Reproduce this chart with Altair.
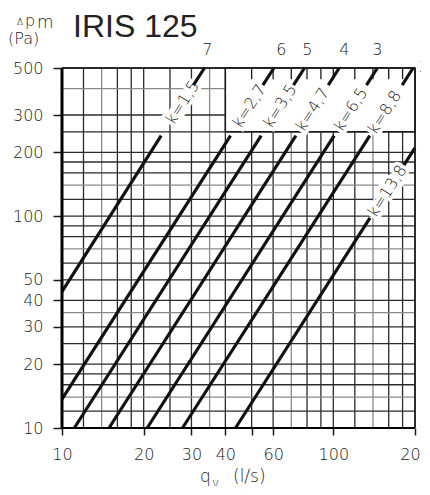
import altair as alt
import pandas as pd

# ---- data ----
k_labels = ["k=1,5", "k=2,7", "k=3,5", "k=4,7", "k=6,5", "k=8,8", "k=13,8"]
position_numbers = ["7", "6", "5", "4", "3", "2", "1"]

# solid part of each line: start (q, dp) -> end (q, dp)
solid_q0 = [10, 10, 11.1, 14.9, 20.6, 27.8, 43.6]
solid_p0 = [44, 13.7, 10, 10, 10, 10, 10]
solid_q1 = [23.2, 41.8, 54.2, 72.8, 100.7, 136.3, 136.5]
solid_p1 = [240, 240, 240, 240, 240, 240, 98]
# short upper part of each line
top_q0 = [30.5, 55.0, 71.3, 95.8, 132.5, 179.4, 182]
top_p0 = [415, 415, 415, 415, 415, 415, 174]
top_q1 = [33.5, 60.4, 78.3, 105.1, 145.3, 196.8, 200]
top_p1 = [500, 500, 500, 500, 500, 500, 210]
# label anchor points (on the lines)
label_q = [27.8, 49.0, 63.6, 83.8, 115.9, 154.4, 158]
label_p = [343, 330, 330, 318, 318, 308, 131]
# position numbers above / right of the plot
num_q = [34.3, 64.3, 80.2, 109.8, 145.3, 216.7, 232]
num_p = [610, 610, 610, 610, 610, 507, 256]

x_grid_dark = [10, 12, 16, 18, 20, 25, 30, 40, 50, 60, 80, 90, 100, 120, 160, 180, 200]
x_grid_gray = [14, 35, 70, 140]
y_grid_dark = [10, 12, 16, 18, 20, 25, 30, 40, 50, 60, 80, 90, 100, 120, 160, 180, 200, 250, 300, 500]
y_grid_gray = [14, 35, 70, 140, 400]
top_tick_q = [50, 60, 70, 80, 90, 100, 120, 140, 160, 180]

x_ticks = [10, 20, 30, 40, 50, 60, 100, 200]
y_ticks = [10, 20, 30, 40, 50, 100, 200, 300, 500]

W, H = 353, 360
FONT = "DejaVu Sans"
INK = "#1a1a1a"

xs = alt.Scale(type="log", domain=[10, 200], nice=False)
ys = alt.Scale(type="log", domain=[10, 500], nice=False)

x_axis = alt.Axis(values=x_ticks, title=None, grid=False, domain=False,
                  tickSize=7, tickWidth=1.5, tickColor=INK,
                  labelFont=FONT, labelFontSize=16, labelFontWeight=300,
                  labelColor="#222", labelPadding=11, labelFlush=False,
                  labelExpr="datum.value == 50 ? '' : datum.label", format="d")
y_axis = alt.Axis(values=y_ticks, title=None, grid=False, domain=False,
                  tickSize=9, tickWidth=1.5, tickColor=INK,
                  labelFont=FONT, labelFontSize=16, labelFontWeight=300,
                  labelColor="#222", labelPadding=10, format="d")

one = pd.DataFrame({"a": [0]})

vx_dark = alt.Chart(pd.DataFrame({"q": x_grid_dark})).mark_rule(
    color="#2b2b2b", strokeWidth=1.3).encode(
    x=alt.X("q:Q", scale=xs, axis=x_axis), y=alt.datum(10, scale=ys), y2=alt.datum(500))
vx_gray = alt.Chart(pd.DataFrame({"q": x_grid_gray})).mark_rule(
    color="#8a8a8a", strokeWidth=1.3).encode(
    x=alt.X("q:Q"), y=alt.datum(10), y2=alt.datum(500))
hy_dark = alt.Chart(pd.DataFrame({"p": y_grid_dark})).mark_rule(
    color="#2b2b2b", strokeWidth=1.3).encode(
    y=alt.Y("p:Q", scale=ys, axis=y_axis), x=alt.datum(10), x2=alt.datum(200))
hy_gray = alt.Chart(pd.DataFrame({"p": y_grid_gray})).mark_rule(
    color="#8a8a8a", strokeWidth=1.3).encode(
    y=alt.Y("p:Q"), x=alt.datum(10), x2=alt.datum(200))

box = alt.Chart(one).mark_rect(fill="white", stroke=INK, strokeWidth=1.5).encode(
    x=alt.datum(40), x2=alt.datum(200), y=alt.datum(250), y2=alt.datum(500))
top_ticks = alt.Chart(pd.DataFrame({"q": top_tick_q})).mark_rule(
    color=INK, strokeWidth=1.3).encode(
    x=alt.X("q:Q"), y=alt.datum(443), y2=alt.datum(500))

seg_df = pd.DataFrame({"q": solid_q0 + top_q0, "p": solid_p0 + top_p0,
                       "q2": solid_q1 + top_q1, "p2": solid_p1 + top_p1})
segs = alt.Chart(seg_df).mark_rule(color="#111", strokeWidth=3.2, strokeCap="butt").encode(
    x=alt.X("q:Q"), x2="q2:Q", y=alt.Y("p:Q"), y2="p2:Q")

lab_df = pd.DataFrame({"q": label_q, "p": label_p, "t": k_labels})
halo = alt.Chart(lab_df).mark_text(
    font=FONT, fontSize=16, fontWeight=300, angle=302.5, stroke="white",
    strokeWidth=7, fill="white", align="center", baseline="middle").encode(
    x=alt.X("q:Q"), y=alt.Y("p:Q"), text="t:N")
labels = alt.Chart(lab_df).mark_text(
    font=FONT, fontSize=16, fontWeight=300, angle=302.5, color="#222",
    align="center", baseline="middle").encode(
    x=alt.X("q:Q"), y=alt.Y("p:Q"), text="t:N")

num_df = pd.DataFrame({"q": num_q, "p": num_p, "t": position_numbers})
nums = alt.Chart(num_df).mark_text(
    font=FONT, fontSize=16, fontWeight=300, color="#222", clip=False,
    align="center", baseline="middle").encode(
    x=alt.X("q:Q"), y=alt.Y("p:Q"), text="t:N")

border_l = alt.Chart(one).mark_rule(color="#000", strokeWidth=3).encode(
    x=alt.datum(10), y=alt.datum(10), y2=alt.datum(500))
border_b = alt.Chart(one).mark_rule(color="#000", strokeWidth=2).encode(
    y=alt.datum(10), x=alt.datum(10), x2=alt.datum(200))
border_t = alt.Chart(one).mark_rule(color=INK, strokeWidth=1.5).encode(
    y=alt.datum(500), x=alt.datum(10), x2=alt.datum(200))
border_r = alt.Chart(one).mark_rule(color=INK, strokeWidth=1.5).encode(
    x=alt.datum(200), y=alt.datum(10), y2=alt.datum(500))


def txt(s, x, y, size, align="left", weight=300, font=FONT):
    return alt.Chart(one).mark_text(
        text=s, font=font, fontSize=size, fontWeight=weight, color="#222",
        align=align, baseline="alphabetic").encode(x=alt.value(x), y=alt.value(y))


title = txt("IRIS 125", 11, -31, 32, weight="normal", font="Liberation Sans")
ylab = (txt("Δ", -45, -43, 9) + txt("p", -37, -42, 16) + txt("m", -25, -40, 17)
        + txt("(Pa)", -54, -24, 16))
xlab = txt("q", 138, 414, 17) + txt("v", 150, 419, 12) + txt("(l/s)", 171, 414, 17)

chart = alt.layer(
    vx_dark, vx_gray, hy_dark, hy_gray, box, top_ticks, halo, segs, labels,
    border_l, border_b, border_t, border_r, nums, title, ylab, xlab
).properties(
    width=W, height=H,
    autosize=alt.AutoSizeParams(type="none"),
    padding={"left": 54, "top": 60, "right": 6, "bottom": 58},
).configure_view(stroke=None).configure(background="white")

chart.save("out.html", embed_options={"renderer": "svg", "actions": False})
